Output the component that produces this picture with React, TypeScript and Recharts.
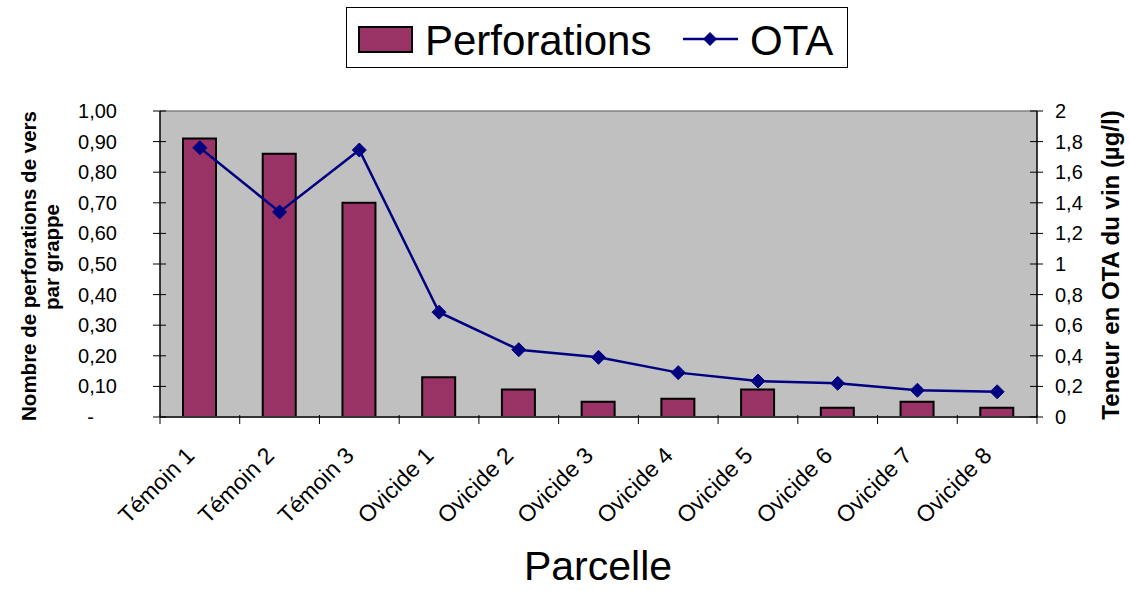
import React from "react";
import {
  ComposedChart,
  Bar,
  Line,
  XAxis,
  YAxis,
  CartesianGrid,
  Legend,
  ReferenceLine,
} from "recharts";

const parcelles = [
  "Témoin 1",
  "Témoin 2",
  "Témoin 3",
  "Ovicide 1",
  "Ovicide 2",
  "Ovicide 3",
  "Ovicide 4",
  "Ovicide 5",
  "Ovicide 6",
  "Ovicide 7",
  "Ovicide 8",
];
const perforations = [0.91, 0.86, 0.7, 0.13, 0.09, 0.05, 0.06, 0.09, 0.03, 0.05, 0.03];
const ota = [1.76, 1.34, 1.745, 0.685, 0.44, 0.39, 0.29, 0.235, 0.22, 0.175, 0.165];
const leftTicks = [0, 0.1, 0.2, 0.3, 0.4, 0.5, 0.6, 0.7, 0.8, 0.9, 1];
const rightTicks = [0, 0.2, 0.4, 0.6, 0.8, 1, 1.2, 1.4, 1.6, 1.8, 2];

const data = parcelles.map((p, i) => ({
  parcelle: p,
  perforations: perforations[i],
  ota: ota[i],
}));

const FONT = "Arial, 'Liberation Sans', sans-serif";
const W = 1130;
const H = 590;
const PLOT_LEFT = 160;
const PLOT_RIGHT = 1037;
const PLOT_TOP = 111;
const PLOT_BOTTOM = 417;
const BAND = (PLOT_RIGHT - PLOT_LEFT) / parcelles.length;

const fmtLeft = (v: number) => (v === 0 ? "-" : v.toFixed(2).replace(".", ","));
const fmtRight = (v: number) => String(Math.round(v * 10) / 10).replace(".", ",");

const LeftTick = (props: any) => {
  const { y, payload } = props;
  const v = payload.value;
  return (
    <g>
      <line x1={PLOT_LEFT - 7} x2={PLOT_LEFT + 6} y1={y} y2={y} stroke="#000" strokeWidth={1} />
      <text
        x={v === 0 ? 94 : 117}
        y={y}
        dy={7}
        textAnchor="end"
        fontSize={20}
        fontFamily={FONT}
        fill="#000"
      >
        {fmtLeft(v)}
      </text>
    </g>
  );
};

const RightTick = (props: any) => {
  const { y, payload } = props;
  return (
    <g>
      <line x1={PLOT_RIGHT - 7} x2={PLOT_RIGHT + 6} y1={y} y2={y} stroke="#000" strokeWidth={1} />
      <text x={1055} y={y} dy={7} textAnchor="start" fontSize={20} fontFamily={FONT} fill="#000">
        {fmtRight(payload.value)}
      </text>
    </g>
  );
};

const XTick = (props: any) => {
  const { x, payload, index } = props;
  const last = index === parcelles.length - 1;
  const ax = x - 4;
  const ay = PLOT_BOTTOM + 40;
  return (
    <g>
      <line x1={x - BAND / 2} x2={x - BAND / 2} y1={PLOT_BOTTOM - 2} y2={PLOT_BOTTOM + 7} stroke="#000" />
      {last && (
        <line x1={x + BAND / 2} x2={x + BAND / 2} y1={PLOT_BOTTOM - 2} y2={PLOT_BOTTOM + 7} stroke="#000" />
      )}
      <text
        x={ax}
        y={ay}
        textAnchor="end"
        fontSize={23}
        fontFamily={FONT}
        fill="#000"
        transform={`rotate(-45 ${ax} ${ay})`}
      >
        {payload.value}
      </text>
    </g>
  );
};

const Diamond = (props: any) => {
  const { cx, cy } = props;
  if (cx == null || cy == null) return null;
  const r = 7;
  return (
    <path
      d={`M${cx},${cy - r} L${cx + r},${cy} L${cx},${cy + r} L${cx - r},${cy} Z`}
      fill="#000080"
      stroke="#000080"
    />
  );
};

// legend box is 502 x 61, drawn at (346, 7)
const renderLegend = () => (
  <svg width={502} height={61} style={{ display: "block" }}>
    <rect x={0.5} y={0.5} width={501} height={60} fill="#fff" stroke="#000" strokeWidth={1} />
    <rect x={13} y={20} width={53} height={25} fill="#993366" stroke="#000" strokeWidth={2} />
    <text x={79} y={48} fontSize={42} fontFamily={FONT} fill="#000">
      Perforations
    </text>
    <line x1={337} x2={392} y1={32} y2={32} stroke="#000080" strokeWidth={2.5} />
    <path d="M364,25 L371,32 L364,39 L357,32 Z" fill="#000080" />
    <text x={404} y={48} fontSize={42} fontFamily={FONT} fill="#000">
      OTA
    </text>
  </svg>
);

export default function App() {
  return (
    <div style={{ position: "absolute", left: 0, top: 0, width: W, height: H, background: "#fff" }}>
      <ComposedChart
        width={W}
        height={H}
        data={data}
        margin={{ top: PLOT_TOP, right: 0, bottom: 0, left: 0 }}
      >
        <CartesianGrid horizontal={false} vertical={false} fill="#C0C0C0" yAxisId="left" />
        <XAxis
          dataKey="parcelle"
          height={H - PLOT_BOTTOM}
          tickLine={false}
          axisLine={{ stroke: "#333", strokeWidth: 2 }}
          interval={0}
          tick={<XTick />}
          label={{
            value: "Parcelle",
            content: () => (
              <text x={598} y={580} textAnchor="middle" fontSize={41} fontFamily={FONT} fill="#000">
                Parcelle
              </text>
            ),
          }}
        />
        <YAxis
          yAxisId="left"
          orientation="left"
          width={PLOT_LEFT}
          domain={[0, 1]}
          ticks={leftTicks}
          interval={0}
          tickLine={false}
          axisLine={{ stroke: "#000", strokeWidth: 1.5 }}
          tick={<LeftTick />}
          label={{
            value: "Nombre de perforations de vers par grappe",
            content: () => (
              <g fontFamily={FONT} fontSize={20.5} fontWeight="bold" fill="#000">
                <text transform="translate(28,266) rotate(-90)" textAnchor="middle" dominantBaseline="central">
                  Nombre de perforations de vers
                </text>
                <text transform="translate(51,257) rotate(-90)" textAnchor="middle" dominantBaseline="central">
                  par grappe
                </text>
              </g>
            ),
          }}
        />
        <YAxis
          yAxisId="right"
          orientation="right"
          width={W - PLOT_RIGHT}
          domain={[0, 2]}
          ticks={rightTicks}
          interval={0}
          tickLine={false}
          axisLine={{ stroke: "#000", strokeWidth: 1.5 }}
          tick={<RightTick />}
          label={{
            value: "Teneur en OTA du vin (µg/l)",
            content: () => (
              <text
                transform="translate(1110,265) rotate(-90)"
                textAnchor="middle"
                dominantBaseline="central"
                fontFamily={FONT}
                fontSize={24}
                fontWeight="bold"
                fill="#000"
              >
                Teneur en OTA du vin (µg/l)
              </text>
            ),
          }}
        />
        <ReferenceLine yAxisId="left" y={1} stroke="#808080" strokeWidth={1.5} />
        <Legend
          verticalAlign="middle"
          align="center"
          wrapperStyle={{ top: 7, left: 346, width: 502, height: 61 }}
          content={renderLegend}
        />
        <Bar
          yAxisId="left"
          dataKey="perforations"
          name="Perforations"
          barSize={33}
          fill="#993366"
          stroke="#000"
          strokeWidth={2}
          isAnimationActive={false}
        />
        <Line
          yAxisId="right"
          dataKey="ota"
          name="OTA"
          type="linear"
          stroke="#000080"
          strokeWidth={2.5}
          dot={<Diamond />}
          activeDot={false}
          isAnimationActive={false}
        />
      </ComposedChart>
    </div>
  );
}
